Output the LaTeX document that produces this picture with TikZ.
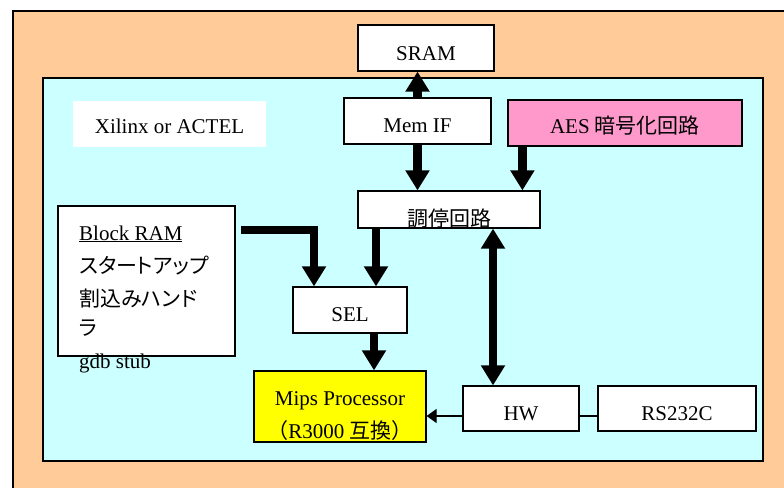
\documentclass[tikz,border=0pt]{standalone}
\usepackage{fontspec}
\setmainfont{Liberation Serif}
\newfontfamily\jp{Noto Sans CJK JP}
\newfontfamily\jpp[RawFeature=+palt]{Noto Sans CJK JP}
\usetikzlibrary{arrows.meta}
\definecolor{orangebg}{HTML}{FFCC99}
\definecolor{cyanbg}{HTML}{CCFFFF}
\definecolor{pinkbg}{HTML}{FF99CC}
\definecolor{yellowbg}{HTML}{FFFF00}
\begin{document}
\begin{tikzpicture}[x=1pt,y=-1pt,
  box/.style={draw=black, line width=1.2pt, fill=white, inner sep=0pt,
              text height=22pt, text depth=0pt, font=\fontsize{21}{25}\selectfont},
  fat/.style={line width=8.5pt, -{Triangle[width=23pt,length=20pt]}},
  fatboth/.style={line width=8.5pt, {Triangle[width=23pt,length=20pt]}-{Triangle[width=23pt,length=20pt]}},
  thinarrow/.style={line width=1.2pt, -{Triangle[width=14pt,length=10pt]}},
  thinline/.style={line width=1.2pt},
  txt/.style={font=\fontsize{21}{25}\selectfont, inner sep=0pt, anchor=base west},
]
\useasboundingbox (0,0) rectangle (784,487);
\clip (0,0) rectangle (784,487);
\fill[white] (0,0) rectangle (784,487);
% outer board
\draw[fill=orangebg, line width=1.2pt] (13,11) rectangle (800,500);
% FPGA area
\draw[fill=cyanbg, line width=1.2pt] (43,78) rectangle (763,461);

% boxes
\node[box, minimum width=136pt, minimum height=46pt, text height=24pt] (sram) at (426,48) {SRAM};
\node[box, minimum width=147pt, minimum height=46pt] (memif) at (417.5,121) {Mem IF};
\node[box, fill=pinkbg, minimum width=234pt, minimum height=46pt, text height=20pt] (aes) at (625,123) {AES {\jp 暗号化回路}};
\node[box, draw=none, minimum width=193pt, minimum height=46pt, text height=18pt] (xil) at (169.5,124) {Xilinx or ACTEL};
\node[box, minimum width=182pt, minimum height=37pt, text height=33pt] (arb) at (449,209.5) {\jp 調停回路};
\node[box, minimum width=177pt, minimum height=150pt] (bram) at (146.5,281) {};
\node[box, minimum width=114pt, minimum height=46pt] (sel) at (350,310) {SEL};
\node[box, fill=yellowbg, minimum width=172pt, minimum height=71pt] (mips) at (340,406.5) {};
\node[box, minimum width=116pt, minimum height=45pt, text height=23pt] (hw) at (521,408.5) {HW};
\node[box, minimum width=158pt, minimum height=45pt, text height=23pt] (rs) at (677,408.5) {RS232C};

% texts inside Block RAM box
\node[txt] (t1) at (79,240) {\underline{Block RAM}};
\node[txt] (t2) at (79,273.5) {\jpp スタートアップ};
\node[txt] (t3) at (79,306.5) {\jpp 割込みハンド};
\node[txt] (t4) at (79,335.5) {\jpp ラ};
\node[txt] (t5) at (79,368) {gdb stub};

% texts inside Mips box
\node[txt, anchor=base] (m1) at ([yshift=1.5pt]mips.center) {Mips Processor};
\node[txt, anchor=base] (m2) at ([yshift=-31.5pt]mips.center) {{\jp （}R3000 {\jp 互換）}};

% connectors
\draw[fat] (memif.north) -- (memif.north |- sram.south);
\draw[fat] (memif.south) -- (memif.south |- arb.north);
\coordinate (aesout) at ([xshift=15pt]aes.south west);
\draw[fat] (aesout) -- (aesout |- arb.north);
\coordinate (b1) at (241,230);
\coordinate (b2) at (314,230);
\draw[fat] (b1) -- (b2) -- (b2 |- sel.north);
\draw[fat] ([xshift=-73pt]arb.south) -- ([xshift=26pt]sel.north);
\draw[fat] ([xshift=24pt]sel.south) -- ([xshift=34pt]mips.north);
\draw[fatboth] ([xshift=44pt]arb.south) -- ([xshift=-28pt]hw.north);
\draw[thinarrow] ([yshift=-7.5pt]hw.west) -- ([yshift=-9.5pt]mips.east);
\draw[thinline] ([yshift=-7.5pt]hw.east) -- ([yshift=-7.5pt]rs.west);
\end{tikzpicture}
\end{document}
